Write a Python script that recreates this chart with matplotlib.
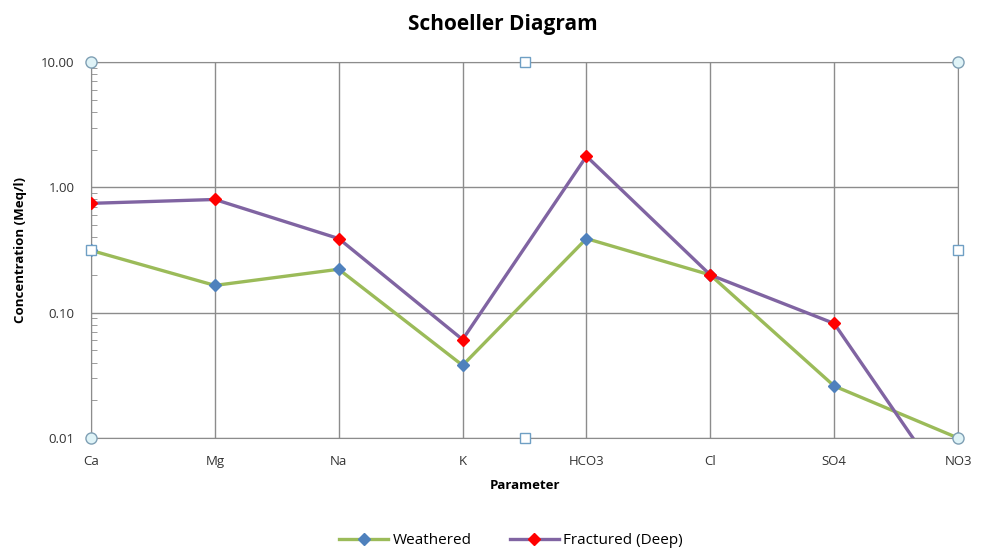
import numpy as np
import matplotlib.pyplot as plt
from matplotlib.ticker import FixedLocator, FuncFormatter, LogLocator, NullFormatter

plt.rcParams['font.family'] = ['Open Sans', 'DejaVu Sans']

params = ['Ca', 'Mg', 'Na', 'K', 'HCO3', 'Cl', 'SO4', 'NO3']
weathered = [0.314, 0.165, 0.222, 0.038, 0.39, 0.20, 0.026, 0.010]
fractured = [0.745, 0.80, 0.39, 0.061, 1.77, 0.20, 0.082, 0.003]

fig = plt.figure(figsize=(9.83, 5.5), dpi=100)
ax = fig.add_axes([0.0926, 0.2036, 0.882, 0.6837])

x = np.arange(len(params))
ax.plot(x, weathered, color='#9BBB59', lw=2.4, marker='D', ms=6,
        mfc='#4F81BD', mec='#4F81BD', label='Weathered', zorder=3)
ax.plot(x, fractured, color='#8064A2', lw=2.4, marker='D', ms=6,
        mfc='#FF0000', mec='#FF0000', label='Fractured (Deep)', zorder=4)

ax.set_yscale('log')
ax.set_ylim(0.01, 10)
ax.set_xlim(0, len(params) - 1)
ax.set_xticks(x)
ax.set_xticklabels(params)
ax.yaxis.set_major_locator(FixedLocator([0.01, 0.1, 1, 10]))
ax.yaxis.set_major_formatter(FuncFormatter(lambda v, p: '%.2f' % v))
ax.yaxis.set_minor_locator(LogLocator(base=10, subs=np.arange(2, 10)))
ax.yaxis.set_minor_formatter(NullFormatter())

ax.grid(True, which='major', color='#8c8c8c', lw=1.0)
for s in ax.spines.values():
    s.set_color('#8c8c8c')
ax.tick_params(axis='x', length=0, pad=12, labelsize=9.5, colors='#333333')
ax.tick_params(axis='y', which='major', length=0, pad=12, labelsize=9.5, colors='#333333')
ax.tick_params(axis='y', which='minor', direction='in', length=4, color='#8c8c8c')

ax.set_xlabel('Parameter', fontsize=9.5, fontweight='bold', labelpad=8)
ax.set_ylabel('Concentration (Meq/l)', fontsize=9.5, fontweight='bold', labelpad=10)
fig.text(0.512, 0.955, 'Schoeller Diagram', ha='center', va='center',
         fontsize=15, fontweight='bold')

# selection handles around the plot area
hx_c = [0, 1, 0, 1]
hy_c = [0, 0, 1, 1]
ax.plot(hx_c, hy_c, 'o', transform=ax.transAxes, ms=8, mfc='#dff3f7',
        mec='#7f9fb4', mew=1, clip_on=False, zorder=6)
hx_s = [0.5, 0.5, 0, 1]
hy_s = [0, 1, 0.5, 0.5]
ax.plot(hx_s, hy_s, 's', transform=ax.transAxes, ms=7, mfc='#ffffff',
        mec='#6f9fc4', mew=1, clip_on=False, zorder=6)

fig.legend(loc='center', bbox_to_anchor=(0.52, 0.017), ncol=2, frameon=False,
           fontsize=11, handlelength=3.2, columnspacing=2.5, handletextpad=0.3)

fig.savefig('out.png', dpi=100)
